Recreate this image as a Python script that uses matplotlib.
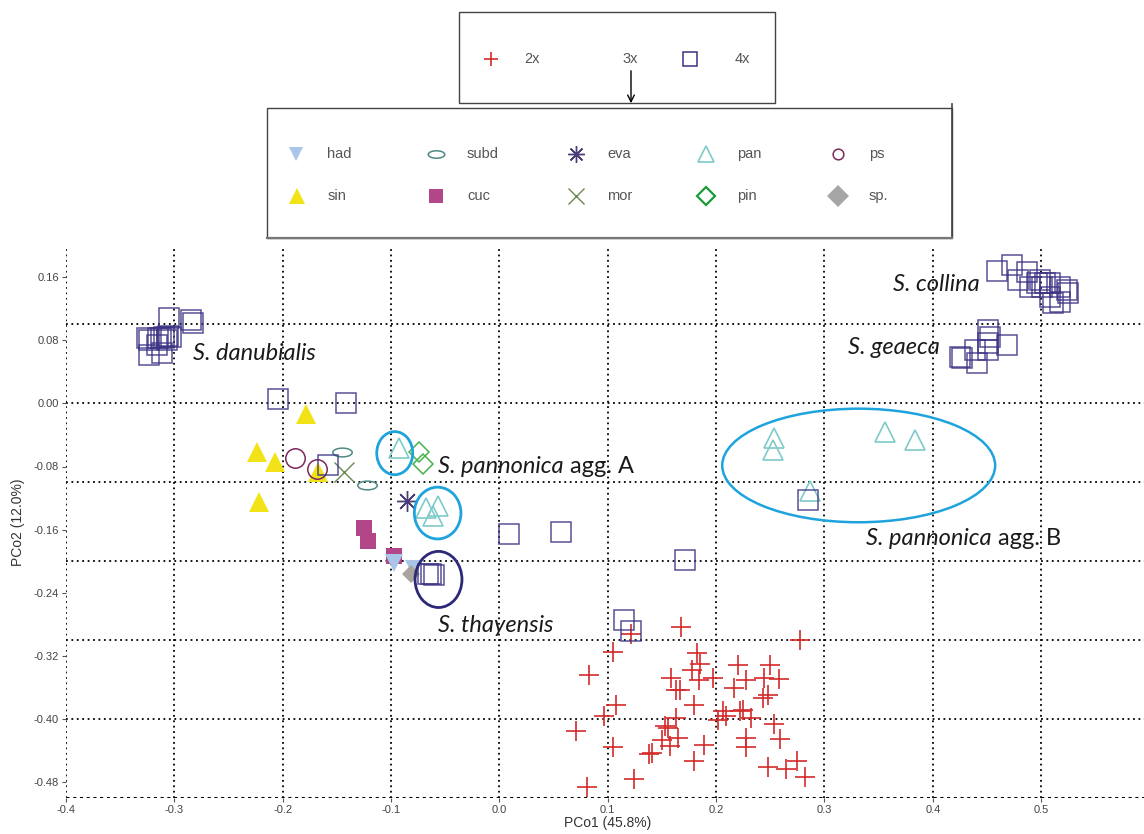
import numpy as np
import matplotlib
matplotlib.use("Agg")
import matplotlib.pyplot as plt
from matplotlib.path import Path
from matplotlib.patches import Ellipse, Rectangle
from matplotlib.transforms import Affine2D

# ---------------- data (PCo1, PCo2) ----------------
diploid_x = [0.1673, 0.1212, 0.2770, 0.1046, 0.1820, 0.0825, 0.1848, 0.1774, 0.1581, 0.1627,
             0.1793, 0.1074, 0.0963, 0.0705, 0.1046, 0.0806, 0.1240, 0.1378, 0.1406, 0.1571,
             0.1553, 0.1627, 0.1793, 0.1885, 0.1968, 0.1839, 0.2060, 0.2014, 0.2198, 0.2161,
             0.2272, 0.2244, 0.2318, 0.2502, 0.2438, 0.2576, 0.2475, 0.2429, 0.2530, 0.2272,
             0.2272, 0.2594, 0.2475, 0.2641, 0.2751, 0.2825, 0.2088, 0.1645, 0.1498, 0.1664,
             0.1525, 0.2217]
diploid_y = [-0.2832, -0.2921, -0.2997, -0.3149, -0.3162, -0.3441, -0.3302, -0.3378, -0.3479, -0.3632,
             -0.3822, -0.3822, -0.3962, -0.4152, -0.4356, -0.4863, -0.4762, -0.4444, -0.4432, -0.4343,
             -0.4114, -0.3987, -0.4533, -0.4330, -0.3479, -0.3505, -0.3898, -0.4013, -0.3314, -0.3606,
             -0.3505, -0.3886, -0.3987, -0.3314, -0.3479, -0.3492, -0.3695, -0.3733, -0.4063, -0.4241,
             -0.4356, -0.4254, -0.4610, -0.4635, -0.4533, -0.4737, -0.3962, -0.4241, -0.4267, -0.3632,
             -0.4089, -0.3898]

tetraploid_x = [-0.3046, -0.2825, -0.2843, -0.3249, -0.3230, -0.3147, -0.3092, -0.3055, -0.3028, -0.3120,
                -0.3230, -0.3110, -0.3070, -0.3160,
                -0.2040, -0.1415, -0.1580, 0.0087, 0.0567, 0.1710, 0.1147, 0.1210, 0.2850,
                -0.0631, -0.0604, -0.0659,
                0.4594, 0.4733, 0.4871, 0.4788, 0.4963, 0.5037, 0.5083, 0.5175, 0.5240, 0.5083,
                0.5175, 0.5249, 0.5110, 0.5009, 0.4899, 0.4990,
                0.4511, 0.4530, 0.4511, 0.4687, 0.4392, 0.4272, 0.4253, 0.4410, 0.4511]
tetraploid_y = [0.1080, 0.1016, 0.1050, 0.0825, 0.0800, 0.0825, 0.0835, 0.0850, 0.0838, 0.0825,
                0.0610, 0.0635, 0.0800, 0.0740,
                0.0050, 0.0000, -0.0780, -0.1650, -0.1625, -0.1980, -0.2740, -0.2880, -0.1220,
                -0.2159, -0.2171, -0.2159,
                0.1676, 0.1752, 0.1663, 0.1562, 0.1524, 0.1524, 0.1524, 0.1473, 0.1435, 0.1346,
                0.1283, 0.1397, 0.1270, 0.1473, 0.1473, 0.1560,
                0.0927, 0.0838, 0.0762, 0.0737, 0.0673, 0.0571, 0.0584, 0.0508, 0.0673]

had_x, had_y = [-0.0972, -0.0788], [-0.2019, -0.2095]
sin_x, sin_y = [-0.1783, -0.2235, -0.2069, -0.2217, -0.1673], [-0.0140, -0.0622, -0.0749, -0.1244, -0.0876]
subd_x, subd_y = [-0.1452, -0.1221], [-0.0610, -0.1029]
cuc_x, cuc_y = [-0.1249, -0.1212, -0.0972], [-0.1575, -0.1740, -0.1930]
eva_x, eva_y = [-0.0853], [-0.1232]
mor_x, mor_y = [-0.1433], [-0.0876]
pan_x = [-0.0926, -0.0677, -0.0567, -0.0613, 0.2530, 0.2521, 0.3562, 0.3839, 0.2871]
pan_y = [-0.0571, -0.1321, -0.1295, -0.1422, -0.0444, -0.0597, -0.0368, -0.0470, -0.1105]
pin_x, pin_y = [-0.0742, -0.0705], [-0.0610, -0.0762]
ps_x, ps_y = [-0.1885, -0.1682], [-0.0698, -0.0838]
sp_x, sp_y = [-0.0816], [-0.2159]

x_ticks = [-0.4, -0.3, -0.2, -0.1, 0.0, 0.1, 0.2, 0.3, 0.4, 0.5]
y_ticks = [-0.48, -0.40, -0.32, -0.24, -0.16, -0.08, 0.00, 0.08, 0.16]

# ---------------- styles ----------------
ellipse_marker = Path.unit_circle().transformed(Affine2D().scale(1.0, 0.45))

ploidy_style = {
    "2x": dict(marker="+", color="#d42a2a", ms=15, mew=1.2, mfc="none"),
    "4x": dict(marker="s", color="#3b3384", ms=14, mew=1.1, mfc="none", alpha=0.85),
}
taxon_style = {
    "had": dict(marker="v", color="#a9c6e8", ms=13, mew=0, mfc="#a9c6e8"),
    "sin": dict(marker="^", color="#f2e319", ms=15, mew=0, mfc="#f2e319"),
    "subd": dict(marker=ellipse_marker, color="#4e8a84", ms=14, mew=1.1, mfc="none"),
    "cuc": dict(marker="s", color="#b34688", ms=12, mew=0, mfc="#b34688"),
    "eva": dict(marker=(8, 2, 0), color="#4a3c78", ms=15, mew=1.0, mfc="none"),
    "mor": dict(marker="x", color="#6a8a52", ms=15, mew=1.0, mfc="none"),
    "pan": dict(marker="^", color="#7fcaca", ms=14, mew=1.2, mfc="none"),
    "pin": dict(marker="D", color="#47b34a", ms=10, mew=1.1, mfc="none"),
    "ps": dict(marker="o", color="#7a2a5c", ms=14, mew=1.1, mfc="none"),
    "sp.": dict(marker="D", color="#aaa49e", ms=9.5, mew=0, mfc="#aaa49e"),
}
taxon_data = {
    "sin": (sin_x, sin_y), "ps": (ps_x, ps_y), "subd": (subd_x, subd_y), "mor": (mor_x, mor_y),
    "cuc": (cuc_x, cuc_y), "had": (had_x, had_y), "sp.": (sp_x, sp_y), "eva": (eva_x, eva_y),
    "pin": (pin_x, pin_y), "pan": (pan_x, pan_y),
}

W, H = 1144, 834
fig = plt.figure(figsize=(W / 100, H / 100), dpi=100)
fig.patch.set_facecolor("white")

# main axes: x from -0.4 to 0.6, y from -0.5 to 0.2
ax = fig.add_axes([66 / W, 36 / H, (1149.5 - 66) / W, (798 - 245.5) / H])
ax.set_xlim(-0.4, 0.6)
ax.set_ylim(-0.5, 0.2)
for s in ax.spines.values():
    s.set_visible(False)

dot = (0, (1, 2))
for gx in np.arange(-0.3, 0.55, 0.1):
    ax.axvline(gx, color="black", lw=1.3, ls=dot, zorder=1)
for gy in np.arange(-0.4, 0.15, 0.1):
    ax.axhline(gy, color="black", lw=1.3, ls=dot, zorder=1)
ax.axvline(-0.4, color="black", lw=1.3, ls=dot, zorder=1)
ax.axhline(0.2, color="black", lw=1.3, ls=dot, zorder=1)
ax.axhline(-0.5, color="black", lw=2.2, ls=(0, (1, 1.2)), zorder=1)

tick_font = ["Liberation Sans", "DejaVu Sans"]
ax.set_xticks(x_ticks)
ax.set_xticklabels([f"{v:.1f}" for v in x_ticks], fontsize=8, color="#444444", family=tick_font)
ax.set_yticks(y_ticks)
ax.set_yticklabels([f"{v:.2f}" for v in y_ticks], fontsize=8, color="#444444", family=tick_font)
ax.tick_params(axis="both", length=3, width=0.8, color="#555555", pad=2)
ax.set_xlabel("PCo1 (45.8%)", fontsize=10, color="#333333", labelpad=1, family=tick_font)
ax.set_ylabel("PCo2 (12.0%)", fontsize=10, color="#333333", labelpad=6, family=tick_font)

# points
ax.plot(diploid_x, diploid_y, ls="none", zorder=3, **ploidy_style["2x"])
for name, (xs, ys) in taxon_data.items():
    ax.plot(xs, ys, ls="none", zorder=4, **taxon_style[name])
ax.plot(tetraploid_x, tetraploid_y, ls="none", zorder=5, **ploidy_style["4x"])

# group outlines
cyan = "#1ea3dc"
ax.add_patch(Ellipse((-0.0966, -0.0631), 0.0332, 0.0546, fill=False, ec=cyan, lw=2, zorder=6))
ax.add_patch(Ellipse((-0.0570, -0.1390), 0.0430, 0.0656, fill=False, ec=cyan, lw=2, zorder=6))
ax.add_patch(Ellipse((0.3316, -0.0787), 0.2519, 0.1439, fill=False, ec=cyan, lw=1.8, zorder=6))
ax.add_patch(Ellipse((-0.0562, -0.2231), 0.0433, 0.0711, fill=False, ec="#2e2878", lw=2, zorder=6))

# group names
name_font = ["Lato", "DejaVu Sans"]
name_kw = dict(fontsize=17, style="italic", color="#1a1a1a", family=name_font,
               va="center", ha="left", zorder=7)
ax.text(-0.2825, 0.0635, "S. danubialis", **name_kw)
ax.text(0.3636, 0.1511, "S. collina", **name_kw)
ax.text(0.3221, 0.0711, "S. geaeca", **name_kw)
ax.text(-0.0567, -0.2819, "S. thayensis", **name_kw)
ta = ax.text(-0.0567, -0.0800, "S. pannonica", **name_kw)
ax.annotate(" agg. A", xy=(1, 0.5), xycoords=ta, va="center", ha="left", fontsize=17,
            color="#1a1a1a", family=name_font, zorder=7)
tb = ax.text(0.3387, -0.1714, "S. pannonica", **name_kw)
ax.annotate(" agg. B", xy=(1, 0.5), xycoords=tb, va="center", ha="left", fontsize=17,
            color="#1a1a1a", family=name_font, zorder=7)

# ---------------- legend boxes (pixel coordinates) ----------------
lg = fig.add_axes([0, 0, 1, 1], zorder=10)
lg.set_xlim(0, W)
lg.set_ylim(H, 0)
lg.axis("off")
lg.patch.set_alpha(0)

box_col = "#444444"
lg.add_patch(Rectangle((459, 12), 316, 91, fill=False, ec=box_col, lw=1))
lg.add_patch(Rectangle((267, 108), 685, 130, fill=False, ec=box_col, lw=1))
lg.plot([952, 952], [104, 238], color=box_col, lw=1.2)
lg.plot([267, 952], [238, 238], color="#777777", lw=1.6)

leg_font = dict(fontsize=10.5, color="#555555", family=tick_font, va="center", ha="left")

ploidy_legend = [("2x", 491, 524), ("3x", None, 622), ("4x", 690, 735)]
for lab, mx, tx in ploidy_legend:
    if mx is not None:
        st = dict(ploidy_style[lab])
        st["ms"] = st["ms"] * 0.7
        st.pop("alpha", None)
        lg.plot([mx], [59], ls="none", **st)
    lg.text(tx, 59, lab, **leg_font)
lg.annotate("", xy=(631, 106), xytext=(631, 68),
            arrowprops=dict(arrowstyle="->", color="black", lw=1, mutation_scale=12))

legend_rows = [
    [("had", 296), ("subd", 436), ("eva", 576), ("pan", 706), ("ps", 838)],
    [("sin", 297), ("cuc", 436), ("mor", 576), ("pin", 706), ("sp.", 838)],
]
legend_scale = {"had": 0.8, "subd": 0.85, "eva": 0.8, "pan": 0.8, "ps": 0.55,
                "sin": 0.75, "cuc": 0.8, "mor": 0.8, "pin": 0.95, "sp.": 1.15}
for row, yy in zip(legend_rows, [154, 196]):
    for lab, mx in row:
        st = dict(taxon_style[lab])
        st["ms"] = st["ms"] * legend_scale[lab]
        if lab == "pin":
            st["color"] = "#1a9a3a"
            st["mew"] = 1.6
        if lab == "sp.":
            st["color"] = st["mfc"] = "#a6a6a6"
        lg.plot([mx], [yy], ls="none", **st)
        lg.text(mx + 31, yy, lab, **leg_font)

fig.savefig("out.png", dpi=100, facecolor="white")
